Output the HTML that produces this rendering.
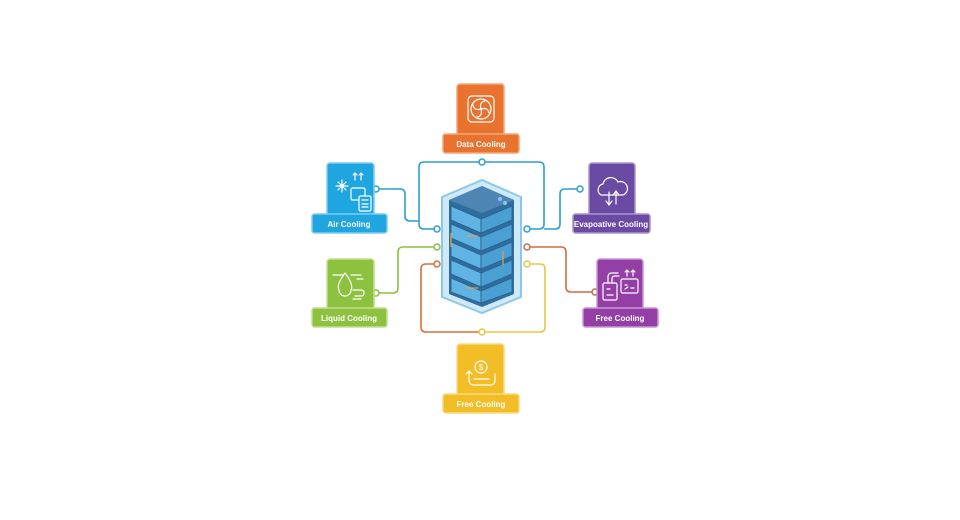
<!DOCTYPE html>
<html><head><meta charset="utf-8"><style>
html,body{margin:0;padding:0;background:#fff;}
svg{display:block;}
text{font-family:"Liberation Sans",sans-serif;font-weight:bold;font-size:8px;fill:#fff;text-anchor:middle;}
</style></head><body>
<svg width="960" height="520" viewBox="0 0 960 520" xmlns="http://www.w3.org/2000/svg">
<g fill="none" stroke-width="1.6" stroke-linejoin="round">
  <!-- blue top loop -->
  <path d="M437,229 H424 Q419,229 419,224 V167 Q419,162 424,162 H539 Q544,162 544,167 V224 Q544,229 539,229 H527" stroke="#2b9fcf"/>
  <!-- air -->
  <path d="M376,189 H400 Q405,189 405,194 V216 Q405,221 410,221 H419" stroke="#2b9fcf"/>
  <!-- evap -->
  <path d="M580,189 H565 Q560,189 560,194 V224 Q560,229 555,229 H544" stroke="#2b9fcf"/>
  <!-- liquid -->
  <path d="M376,293 H393 Q398,293 398,288 V252 Q398,247 403,247 H437" stroke="#8cc23f"/>
  <!-- orange -->
  <path d="M437,264 H426 Q421,264 421,269 V327 Q421,332 426,332 H482" stroke="#d9703a"/>
  <!-- yellow -->
  <path d="M482,332 H540 Q545,332 545,327 V269 Q545,264 540,264 H527" stroke="#e8c545"/>
  <!-- red -->
  <path d="M527,247 H561 Q566,247 566,252 V287 Q566,292 571,292 H595" stroke="#d06a45"/>
</g>
<g fill="#fff" stroke-width="1.5">
  <circle cx="482" cy="162" r="3" stroke="#2b9fcf"/>
  <circle cx="437" cy="229" r="3" stroke="#2b9fcf"/>
  <circle cx="527" cy="229" r="3" stroke="#2b9fcf"/>
  <circle cx="376" cy="189" r="3" stroke="#2b9fcf"/>
  <circle cx="580" cy="189" r="3" stroke="#2b9fcf"/>
  <circle cx="437" cy="247" r="3" stroke="#8cc23f"/>
  <circle cx="376" cy="293" r="3" stroke="#8cc23f"/>
  <circle cx="437" cy="264" r="3" stroke="#d9703a"/>
  <circle cx="482" cy="332" r="3" stroke="#e8c545"/>
  <circle cx="527" cy="264" r="3" stroke="#e8c545"/>
  <circle cx="527" cy="247" r="3" stroke="#d06a45"/>
  <circle cx="595" cy="292" r="3" stroke="#d06a45"/>
</g>

<!-- server -->
<path d="M482,180 L521,197 V297 L482,313 L442,297 V197 Z" fill="#cfe9f8" stroke="#8cc8ea" stroke-width="2"/>
<path d="M482,186 L514,200 V294 L482,307 L449,294 V200 Z" fill="#2f6d9e"/>
<path d="M482,186 L514,200 L482,213 L449,200 Z" fill="#4d86b5"/>
<circle cx="500" cy="199" r="2" fill="#8cc6e8"/><circle cx="505" cy="203" r="2" fill="#8cc6e8"/>
<g fill="#5fb4e3" stroke="#2a5f8c" stroke-width="0.8">
  <path d="M451,206 L481,219 V233 L451,220 Z"/><path d="M481,219 L512,206 V220 L481,233 Z" fill="#4a9fd3"/>
  <path d="M451,224 L481,237 V251 L451,238 Z"/><path d="M481,237 L512,224 V238 L481,251 Z" fill="#4a9fd3"/>
  <path d="M451,242 L481,255 V269 L451,256 Z"/><path d="M481,255 L512,242 V256 L481,269 Z" fill="#4a9fd3"/>
  <path d="M451,260 L481,273 V287 L451,274 Z"/><path d="M481,273 L512,260 V274 L481,287 Z" fill="#4a9fd3"/>
  <path d="M451,278 L481,291 V303 L451,292 Z"/><path d="M481,291 L512,278 V292 L481,303 Z" fill="#4a9fd3"/>
</g>
<g stroke="#e8a04a" stroke-width="1.2"><path d="M467,236 H478"/><path d="M503,251 V265"/><path d="M466,288 H478"/><path d="M451,233 V247"/></g>

<!-- cards -->
<g stroke-width="1.5">
  <!-- Data -->
  <rect x="457" y="84" width="47" height="52" rx="3" fill="#e8722e" stroke="#f2a77a"/>
  <rect x="443" y="134" width="76" height="19" rx="2.5" fill="#e8722e" stroke="#f2a77a"/>
  <!-- Air -->
  <rect x="327" y="163" width="47" height="53" rx="3" fill="#1fa6e0" stroke="#7ccdef"/>
  <rect x="312" y="214" width="75" height="19" rx="2.5" fill="#1fa6e0" stroke="#7ccdef"/>
  <!-- Evap -->
  <rect x="589" y="163" width="46" height="53" rx="3" fill="#6a4aa2" stroke="#a996cc"/>
  <rect x="573" y="214" width="77" height="19" rx="2.5" fill="#6a4aa2" stroke="#a996cc"/>
  <!-- Liquid -->
  <rect x="327" y="259" width="47" height="51" rx="3" fill="#8cc23f" stroke="#c2e08e"/>
  <rect x="312" y="308" width="75" height="19" rx="2.5" fill="#8cc23f" stroke="#c2e08e"/>
  <!-- Free purple -->
  <rect x="597" y="259" width="46" height="51" rx="3" fill="#943fa6" stroke="#c996d3"/>
  <rect x="583" y="308" width="75" height="19" rx="2.5" fill="#943fa6" stroke="#c996d3"/>
  <!-- Free yellow -->
  <rect x="457" y="344" width="47" height="52" rx="3" fill="#f2bd25" stroke="#f8dc85"/>
  <rect x="443" y="394" width="76" height="19" rx="2.5" fill="#f2bd25" stroke="#f8dc85"/>
</g>
<text x="481" y="147">Data Cooling</text>
<text x="349" y="227">Air Cooling</text>
<text x="611" y="227">Evapoative Cooling</text>
<text x="349" y="321">Liquid Cooling</text>
<text x="620" y="321">Free Cooling</text>
<text x="481" y="407">Free Cooling</text>

<!-- icons -->
<g fill="none" stroke="#fff" stroke-width="1.2" stroke-linecap="round">
  <!-- fan -->
  <rect x="468" y="96" width="26" height="26" rx="4"/>
  <circle cx="481" cy="109" r="10"/>
  <path d="M481,109 q-2,-7 4,-8 M481,109 q7,-2 8,4 M481,109 q2,7 -4,8 M481,109 q-7,2 -8,-4"/>
  <!-- air -->
  <path d="M342,180 v12 M336,186 h12 M338,182 l8,8 M346,182 l-8,8"/>
  <path d="M355,180 v-7 M353,175 l2,-2 2,2 M361,180 v-7 M359,175 l2,-2 2,2"/>
  <rect x="351" y="188" width="14" height="12" rx="1.5"/>
  <rect x="359" y="196" width="12" height="15" rx="1.5" fill="#1fa6e0"/>
  <path d="M362,200 h6 M362,204 h6 M362,207 h6"/>
  <!-- evap cloud -->
  <path d="M601,195 a6,6 0 0,1 2,-11 a8,8 0 0,1 15,-2 a6,6 0 0,1 5,13 z"/>
  <path d="M609,192 v12 M606,201 l3,4 3,-4 M616,204 v-12 M613,195 l3,-4 3,4"/>
  <!-- liquid drop -->
  <path d="M345,273 q-9,12 -6,17 a6,6 0 0,0 12,0 q3,-5 -6,-17 z"/>
  <path d="M333,275 h10 M351,275 h10 M357,279 h6 M353,290 h8 q3,0 3,3 q0,3 -3,3 h-6 M353,299 h8"/>
  <!-- free purple -->
  <rect x="603" y="283" width="14" height="17" rx="1.5"/>
  <rect x="621" y="279" width="17" height="14" rx="1.5"/>
  <path d="M608,283 v-6 q0,-4 4,-4 h6 M612,283 v-4 q0,-3 3,-3 h4 M627,276 v-6 M625,272 l2,-2 2,2 M633,276 v-6 M631,272 l2,-2 2,2"/>
  <path d="M607,289 h3 M607,295 h6 M625,285 h2 M631,288 h3 M625,289 l3,-2"/>
  <!-- coin -->
  <circle cx="481" cy="367" r="6"/>
  <path d="M469,380 v-8 M466,374 l3,-3 3,3 M469,380 q0,5 5,5 h16 q5,0 5,-5 v-6 M474,379 h15"/>
</g>
<text x="481" y="370" style="font-size:8px;font-weight:normal">$</text>
</svg>
</body></html>
